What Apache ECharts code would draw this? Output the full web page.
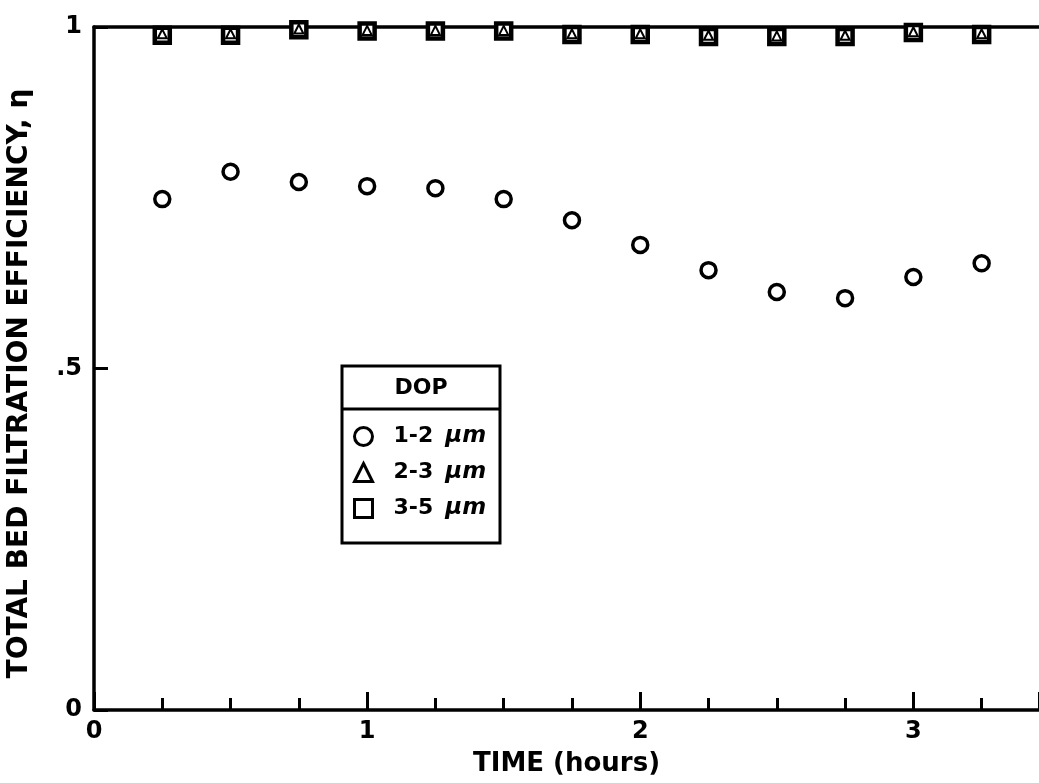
<!DOCTYPE html>
<html>
<head>
<meta charset="utf-8">
<script src="https://cdn.jsdelivr.net/npm/echarts@6/dist/echarts.min.js"></script>
<style>html,body{margin:0;padding:0;background:#fff;overflow:hidden;}#c{width:1039px;height:783px;}</style>
</head>
<body>
<div id="c"></div>
<script>
const times = [0.25, 0.5, 0.75, 1.0, 1.25, 1.5, 1.75, 2.0, 2.25, 2.5, 2.75, 3.0, 3.25];
const eff_1_2 = [0.748, 0.788, 0.773, 0.767, 0.764, 0.748, 0.717, 0.681, 0.644, 0.612, 0.603, 0.634, 0.654];
const eff_2_3 = [0.990, 0.990, 0.997, 0.995, 0.995, 0.995, 0.990, 0.990, 0.988, 0.987, 0.988, 0.993, 0.990];
const eff_3_5 = [0.988, 0.988, 0.996, 0.994, 0.994, 0.994, 0.989, 0.989, 0.986, 0.986, 0.986, 0.992, 0.989];
const seriesNames = ['1-2 μm', '2-3 μm', '3-5 μm'];
const xTickLabels = ['0', '1', '2', '3'];
const yTickLabels = {0: '0', 0.5: '.5', 1: '1'};

const FONT = 'DejaVu Sans';
const pair = (xs, ys) => xs.map((x, i) => [x, ys[i]]);

const chart = echarts.init(document.getElementById('c'));
chart.setOption({
  animation: false,
  backgroundColor: '#fff',
  grid: {left: 94, top: 27, right: 0, height: 683, containLabel: false, outerBoundsMode: 'none'},
  xAxis: [{
    type: 'value', min: 0, max: 3.46, interval: 1,
    name: 'TIME (hours)', nameLocation: 'middle', nameGap: 41,
    nameTextStyle: {fontFamily: FONT, fontWeight: 'bold', fontSize: 26, color: '#000'},
    axisLine: {show: true, onZero: false, lineStyle: {color: '#000', width: 3.5}},
    axisTick: {show: true, inside: true, length: 18, lineStyle: {color: '#000', width: 3}},
    minorTick: {show: true, splitNumber: 4, length: 12, lineStyle: {color: '#000', width: 3}},
    splitLine: {show: false}, minorSplitLine: {show: false},
    axisLabel: {fontFamily: FONT, fontWeight: 'bold', fontSize: 24, color: '#000', margin: 10,
      showMaxLabel: false,
      formatter: v => (Number.isInteger(v) && xTickLabels.includes(String(v))) ? String(v) : ''}
  }, {
    type: 'value', min: 0, max: 3.46, position: 'top',
    axisLine: {show: true, onZero: false, lineStyle: {color: '#000', width: 3.5}},
    axisTick: {show: false}, axisLabel: {show: false}, splitLine: {show: false}
  }],
  yAxis: {
    type: 'value', min: 0, max: 1, interval: 0.5,
    name: 'TOTAL BED FILTRATION EFFICIENCY, η', nameLocation: 'middle', nameGap: 60,
    nameTextStyle: {fontFamily: FONT, fontWeight: 'bold', fontSize: 28, color: '#000', padding: [0, 30, 0, 0]},
    axisLine: {show: true, lineStyle: {color: '#000', width: 3.5}},
    axisTick: {show: true, inside: true, length: 14, lineStyle: {color: '#000', width: 3}},
    splitLine: {show: false},
    axisLabel: {fontFamily: FONT, fontWeight: 'bold', fontSize: 24, color: '#000', margin: 12,
      formatter: v => yTickLabels[v] !== undefined ? yTickLabels[v] : ''}
  },
  legend: {
    orient: 'vertical', left: 348, top: 420, itemGap: 13,
    itemWidth: 18, itemHeight: 18,
    data: [
      {name: seriesNames[0], icon: 'circle'},
      {name: seriesNames[1], icon: 'triangle'},
      {name: seriesNames[2], icon: 'rect'}
    ],
    itemStyle: {color: '#fff', borderColor: '#000', borderWidth: 3},
    formatter: n => {
      const p = n.split(' ');
      return '{a|' + p[0] + '}{b|' + p[1] + '}';
    },
    textStyle: {
      color: '#000', padding: [0, 0, 0, 16],
      rich: {
        a: {fontFamily: FONT, fontWeight: 'bold', fontSize: 22, color: '#000', lineHeight: 24},
        b: {fontFamily: FONT, fontWeight: 'bold', fontStyle: 'italic', fontSize: 23, color: '#000', lineHeight: 24, padding: [0, 0, 0, 12]}
      }
    }
  },
  graphic: [
    {type: 'rect', shape: {x: 342, y: 366, width: 158, height: 177}, style: {fill: 'none', stroke: '#000', lineWidth: 3}, z: 10},
    {type: 'line', shape: {x1: 342, y1: 409, x2: 500, y2: 409}, style: {stroke: '#000', lineWidth: 3}, z: 10},
    {type: 'text', x: 421, y: 388, style: {text: 'DOP', fontFamily: FONT, fontWeight: 'bold', fontSize: 22, fill: '#000', align: 'center', verticalAlign: 'middle'}, z: 10}
  ],
  series: [
    {name: seriesNames[0], type: 'scatter', symbol: 'circle', symbolSize: 15, itemStyle: {color: '#fff', borderColor: '#000', borderWidth: 3.5, opacity: 1}, data: pair(times, eff_1_2)},
    {name: seriesNames[2], type: 'scatter', symbol: 'rect', symbolSize: 15, itemStyle: {color: '#fff', borderColor: '#000', borderWidth: 4.5, opacity: 1}, data: pair(times, eff_3_5), z: 3},
    {name: seriesNames[1], type: 'scatter', symbol: 'triangle', symbolSize: 9, itemStyle: {color: '#fff', borderColor: '#000', borderWidth: 2, opacity: 1}, data: pair(times, eff_2_3), z: 4}
  ]
});
</script>
</body>
</html>
